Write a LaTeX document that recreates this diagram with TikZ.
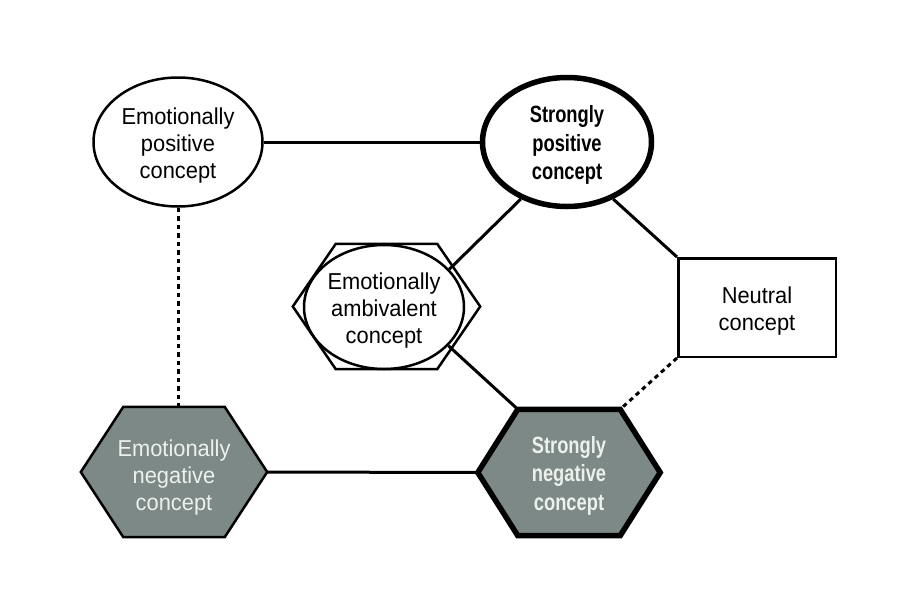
\documentclass[tikz,border=0pt]{standalone}
\usepackage{fontspec}
\setmainfont{Liberation Sans}
\newfontfamily\condreg{Liberation Sans}[FakeStretch=0.95]
\newfontfamily\condbold{Liberation Sans Bold}[FakeStretch=0.78]
\usetikzlibrary{shapes.geometric,backgrounds,calc}
\definecolor{hexgray}{RGB}{124,137,134}
\definecolor{pale}{RGB}{236,241,236}
\newcommand\hexoutline[3]{%
  \begin{scope}[on background layer]
    \draw[#3] (#1.west) -- ([xshift=#2]#1.north west) -- ([xshift=-#2]#1.north east)
      -- (#1.east) -- ([xshift=-#2]#1.south east) -- ([xshift=#2]#1.south west) -- cycle;
  \end{scope}}
\newcommand\padtop[1]{\rule{0pt}{#1}}
\tikzset{
  lbl/.style={align=center, font=\condreg\fontsize{23}{27}\selectfont, inner sep=0pt},
  boldlbl/.style={align=center, font=\condbold\fontsize{23.5}{28.5}\selectfont, inner sep=0pt},
  ellnode/.style={ellipse, draw, minimum width=169pt, minimum height=129pt},
  thinline/.style={line width=2.5pt},
  thickline/.style={line width=5.5pt},
  hexbox/.style 2 args={rectangle, draw=none, minimum width=#1, minimum height=#2, inner sep=0pt},
  conn/.style={line width=3pt},
  dotconn/.style={line width=3pt, dash pattern=on 4.5pt off 4pt},
  grayhex/.style={fill=hexgray, draw=black, line join=miter},
}
\begin{document}
\begin{tikzpicture}[x=1pt,y=-1pt]
\useasboundingbox (0,0) rectangle (898,614);
\begin{scope}[on background layer]
  \fill[white] (0,0) rectangle (898,614);
\end{scope}

% nodes
\node[ellnode, thinline, lbl] (ep) at (178,142) {\padtop{24pt}Emotionally\\positive\\concept};
\node[ellnode, thickline, boldlbl] (sp) at (567,142) {\padtop{23pt}Strongly\\positive\\concept};
\node[hexbox={187pt}{125pt}] (ambhex) at (386.5,306.5) {};
\node[ellipse, draw, thinline, minimum width=160pt, minimum height=124pt, lbl] (amb) at (384,307) {\padtop{24pt}Emotionally\\ambivalent\\concept};
\node[rectangle, draw, thinline, minimum width=157.5pt, minimum height=98.5pt, lbl] (neu) at (757,307.5) {\padtop{24pt}Neutral\\concept};
\node[hexbox={186pt}{130pt}, lbl, text=pale] (en) at (174,472) {\padtop{28pt}Emotionally\\negative\\concept};
\node[hexbox={182pt}{126pt}, boldlbl, text=pale] (sn) at (569,472.5) {\padtop{23pt}Strongly\\negative\\concept};

\hexoutline{ambhex}{43pt}{thinline}
\hexoutline{en}{42.5pt}{grayhex, thinline}
\hexoutline{sn}{40pt}{grayhex, thickline}

\coordinate (sntl) at ([xshift=40pt]sn.north west);
\coordinate (sntr) at ([xshift=-40pt]sn.north east);

% connectors
\draw[conn] (ep.east) -- (sp.west);
\draw[dotconn] (ep.south) -- (ep.south |- en.north);
\draw[conn] (sp.231) -- (amb.30);
\draw[conn] (sp.-51) -- (neu.north west);
\draw[conn] (amb.-31) -- (sntl);
\draw[dotconn] (neu.south west) -- (sntr);
\draw[conn] (en.east) -- (sn.west);
\end{tikzpicture}
\end{document}
